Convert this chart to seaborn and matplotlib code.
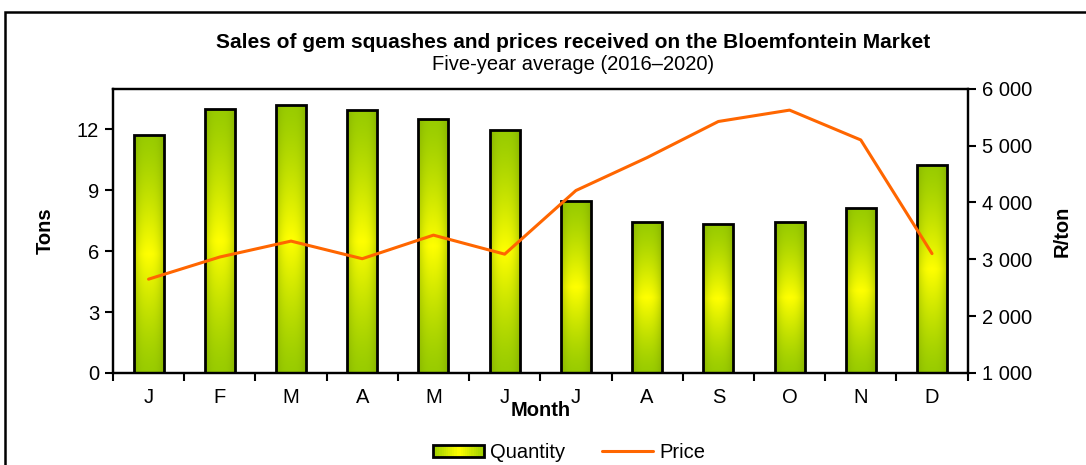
import numpy as np
import pandas as pd
import matplotlib
matplotlib.use("Agg")
import matplotlib.pyplot as plt
from matplotlib.patches import Rectangle, Patch
from matplotlib.lines import Line2D
from matplotlib.legend_handler import HandlerBase
import seaborn as sns

# Data
months = ["Jan", "Feb", "Mar", "Apr", "May", "Jun",
          "Jul", "Aug", "Sep", "Oct", "Nov", "Dec"]
month_labels = ["J", "F", "M", "A", "M", "J", "J", "A", "S", "O", "N", "D"]
quantity = [11.70, 13.00, 13.18, 12.95, 12.50, 11.95,
            8.46, 7.44, 7.32, 7.44, 8.13, 10.24]
price = [2650, 3040, 3320, 3010, 3425, 3090,
         4210, 4790, 5425, 5625, 5100, 3100]
price_ticks = [1000, 2000, 3000, 4000, 5000, 6000]

sns.set_style("white")
plt.rcParams["font.family"] = ["Liberation Sans", "DejaVu Sans"]
plt.rcParams["text.color"] = "black"
plt.rcParams["xtick.color"] = "black"
plt.rcParams["ytick.color"] = "black"
plt.rcParams["axes.labelcolor"] = "black"

GREEN = np.array([0.60, 0.80, 0.0])
YELLOW = np.array([1.0, 1.0, 0.0])


def blend(f):
    return tuple(GREEN + (YELLOW - GREEN) * f)


class GradientHandler(HandlerBase):
    # legend key: green at the sides, yellow in the middle
    def create_artists(self, legend, orig_handle, xdescent, ydescent,
                       width, height, fontsize, trans):
        arts = []
        n = 24
        for i in range(n):
            c = (i + 0.5) / n
            f = 1 - abs(2 * c - 1)
            r = Rectangle((-xdescent + i * width / n, -ydescent), width / n + 0.3,
                          height, facecolor=blend(f), edgecolor="none",
                          transform=trans)
            arts.append(r)
        arts.append(Rectangle((-xdescent, -ydescent), width, height,
                              facecolor="none", edgecolor="black",
                              linewidth=2.0, transform=trans))
        return arts


df = pd.DataFrame({"month": months, "quantity": quantity,
                   "price": price, "pos": np.arange(len(months))})

fig = plt.figure(figsize=(10.86, 4.65), dpi=100)
ax = fig.add_axes([0.104, 0.198, 0.787, 0.611])

sns.barplot(data=df, x="month", y="quantity", order=months, ax=ax,
            color="#9acd00", width=0.42, edgecolor="black", linewidth=2.0,
            saturation=1)

# gradient fill: green at top/bottom, yellow in the middle, darker at the sides
t = np.linspace(0, 1, 200)[:, None]
s = np.linspace(0, 1, 60)[None, :]
f = (1 - np.abs(2 * t - 1)) ** 1.3
h = 1 - 0.35 * np.abs(2 * s - 1) ** 2
mix = np.clip(f * h, 0, 1)
grad = GREEN[None, None, :] + (YELLOW - GREEN)[None, None, :] * mix[:, :, None]
grad = grad * (1 - 0.12 * np.abs(2 * s - 1) ** 3)[:, :, None]

for bar in ax.patches:
    x0, y0 = bar.get_x(), bar.get_y()
    w, hgt = bar.get_width(), bar.get_height()
    im = ax.imshow(grad, extent=[x0, x0 + w, y0, y0 + hgt], aspect="auto",
                   zorder=bar.get_zorder() - 0.1, interpolation="bilinear")
    im.set_clip_path(bar)
    bar.set_facecolor("none")
    bar.set_zorder(bar.get_zorder() + 0.2)

ax.set_xlim(-0.5, 11.5)
ax.set_ylim(0, 14)
ax.set_yticks([0, 3, 6, 9, 12])
ax.set_xticks(np.arange(12))
ax.set_xticklabels(month_labels)
ax.set_xticks(np.arange(-0.5, 12, 1), minor=True)
ax.tick_params(axis="x", which="major", length=0, pad=11, labelsize=14.5)
ax.tick_params(axis="x", which="minor", length=6, width=1.5, direction="out",
               bottom=True)
ax.tick_params(axis="y", length=6, width=1.5, direction="out", left=True,
               labelsize=14.5, pad=4)
ax.set_xlabel("")
ax.set_ylabel("")
for sp in ax.spines.values():
    sp.set_color("black")
    sp.set_linewidth(1.6)

ax2 = ax.twinx()
sns.lineplot(data=df, x="pos", y="price", ax=ax2, color="#ff6600",
             linewidth=2.2)
ax2.set_ylim(1000, 6000)
ax2.set_xlim(-0.5, 11.5)
ax2.set_yticks(price_ticks)
ax2.set_yticklabels([f"{v:,}".replace(",", " ") for v in price_ticks])
ax2.tick_params(axis="y", length=6, width=1.5, direction="out", right=True,
                labelsize=14.5, pad=4)
ax2.set_xlabel("")
ax2.set_ylabel("")
for sp in ax2.spines.values():
    sp.set_color("black")
    sp.set_linewidth(1.6)

fig.text(0.528, 0.908, "Sales of gem squashes and prices received on the Bloemfontein Market",
         ha="center", va="center", fontsize=15, fontweight="bold")
fig.text(0.528, 0.862, "Five-year average (2016\u20132020)", ha="center",
         va="center", fontsize=14.5)
fig.text(0.042, 0.503, "Tons", rotation=90, ha="center", va="center",
         fontsize=14.5, fontweight="bold")
fig.text(0.978, 0.503, "R/ton", rotation=90, ha="center", va="center",
         fontsize=14.5, fontweight="bold")
fig.text(0.4975, 0.117, "Month", ha="center", va="center", fontsize=14.5,
         fontweight="bold")

handles = [Patch(label="Quantity"),
           Line2D([0], [0], color="#ff6600", linewidth=2.2, label="Price")]
fig.legend(handles=handles, loc="center", bbox_to_anchor=(0.524, 0.027),
           ncol=2, frameon=False, fontsize=14.5, handlelength=2.55,
           handleheight=0.55, handletextpad=0.3, columnspacing=1.8,
           handler_map={Patch: GradientHandler()})

# outer chart border
fig.patches.append(Rectangle((5 / 1086, -0.2), 1.2, 1.2 - 12 / 465,
                             transform=fig.transFigure, fill=False,
                             edgecolor="black", linewidth=1.8))

fig.savefig("out.png", dpi=100)
